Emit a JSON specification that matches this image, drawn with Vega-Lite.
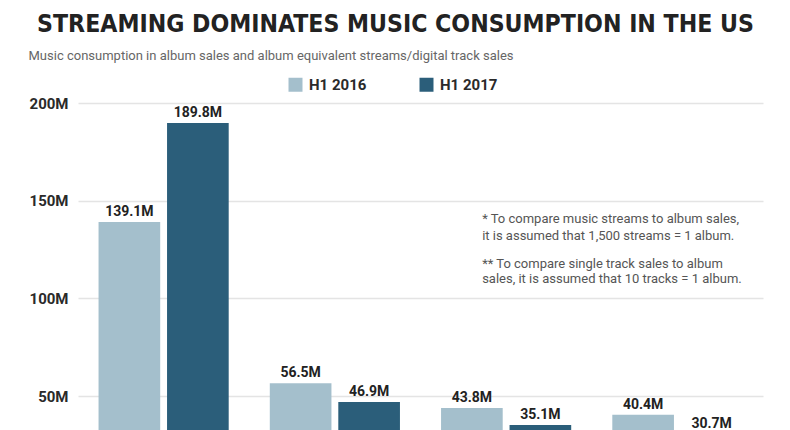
{
  "$schema": "https://vega.github.io/schema/vega-lite/v6.json",
  "width": 685,
  "height": 327,
  "autosize": {"type": "none"},
  "padding": {"left": 78, "top": 103, "right": 27, "bottom": 0},
  "background": "white",
  "title": {
    "text": "STREAMING DOMINATES MUSIC CONSUMPTION IN THE US",
    "anchor": "middle",
    "frame": "bounds",
    "font": "'DejaVu Sans Condensed', Roboto, sans-serif",
    "fontSize": 24.6,
    "fontWeight": "bold",
    "color": "#222222",
    "offset": 11
  },
  "datasets": {
    "bars": [
      {"category": "Streaming*", "period": "H1 2016", "value": 139.1},
      {"category": "Streaming*", "period": "H1 2017", "value": 189.8},
      {"category": "Physical album sales", "period": "H1 2016", "value": 56.5},
      {"category": "Physical album sales", "period": "H1 2017", "value": 46.9},
      {"category": "Digital track sales**", "period": "H1 2016", "value": 43.8},
      {"category": "Digital track sales**", "period": "H1 2017", "value": 35.1},
      {"category": "Digital album sales", "period": "H1 2016", "value": 40.4},
      {"category": "Digital album sales", "period": "H1 2017", "value": 30.7}
    ],
    "notes": [
      {"category": "Digital track sales**", "y": 140.6, "note": "* To compare music streams to album sales,"},
      {"category": "Digital track sales**", "y": 131.9, "note": "it is assumed that 1,500 streams = 1 album."},
      {"category": "Digital track sales**", "y": 117.6, "note": "** To compare single track sales to album"},
      {"category": "Digital track sales**", "y": 109.9, "note": "sales, it is assumed that 10 tracks = 1 album."}
    ]
  },
  "encoding": {
    "x": {
      "field": "category",
      "type": "nominal",
      "sort": ["Streaming*", "Physical album sales", "Digital track sales**", "Digital album sales"],
      "scale": {"paddingInner": 0.24, "paddingOuter": 0.12},
      "axis": null
    }
  },
  "layer": [
    {
      "data": {"name": "bars"},
      "mark": {"type": "bar", "clip": true},
      "encoding": {
        "xOffset": {"field": "period", "type": "nominal", "scale": {"paddingInner": 0.1}},
        "y": {
          "field": "value",
          "type": "quantitative",
          "scale": {"domain": [32.6, 200], "zero": false, "nice": false},
          "axis": {
            "title": "Music consumption in album sales and album equivalent streams/digital track sales",
            "titleAngle": 0,
            "titleX": -50,
            "titleY": -48,
            "titleAlign": "left",
            "titleBaseline": "middle",
            "titleFont": "Roboto",
            "titleFontSize": 13,
            "titleFontWeight": "normal",
            "titleColor": "#666666",
            "values": [50, 100, 150, 200],
            "labelExpr": "datum.value + 'M'",
            "labelFont": "Roboto",
            "labelFontSize": 15,
            "labelFontWeight": "bold",
            "labelColor": "#2a2a2a",
            "labelPadding": 10,
            "domain": false,
            "ticks": false,
            "gridColor": "#e4e4e4",
            "gridWidth": 1.5
          }
        },
        "color": {
          "field": "period",
          "type": "nominal",
          "scale": {"domain": ["H1 2016", "H1 2017"], "range": ["#a4bfcc", "#2b5e7a"]},
          "legend": {
            "title": null,
            "orient": "none",
            "direction": "horizontal",
            "legendX": 210,
            "legendY": -26,
            "symbolType": "square",
            "symbolSize": 196,
            "symbolStrokeWidth": 0,
            "labelFont": "Roboto",
            "labelFontSize": 15,
            "labelFontWeight": "bold",
            "labelColor": "#2a2a2a",
            "labelOffset": 6,
            "columnPadding": 52
          }
        }
      }
    },
    {
      "data": {"name": "bars"},
      "mark": {
        "type": "text",
        "baseline": "bottom",
        "dy": -3,
        "font": "Roboto",
        "fontSize": 14,
        "fontWeight": "bold",
        "color": "#222222",
        "text": {"expr": "format(datum.value, '.1f') + 'M'"}
      },
      "encoding": {
        "xOffset": {"field": "period", "type": "nominal", "scale": {"paddingInner": 0.1}},
        "y": {"field": "value", "type": "quantitative"}
      }
    },
    {
      "data": {"name": "notes"},
      "mark": {
        "type": "text",
        "align": "left",
        "baseline": "middle",
        "dx": -24,
        "font": "Roboto",
        "fontSize": 13,
        "color": "#555555"
      },
      "encoding": {
        "y": {"field": "y", "type": "quantitative"},
        "text": {"field": "note"}
      }
    }
  ],
  "config": {
    "view": {"stroke": null}
  }
}
